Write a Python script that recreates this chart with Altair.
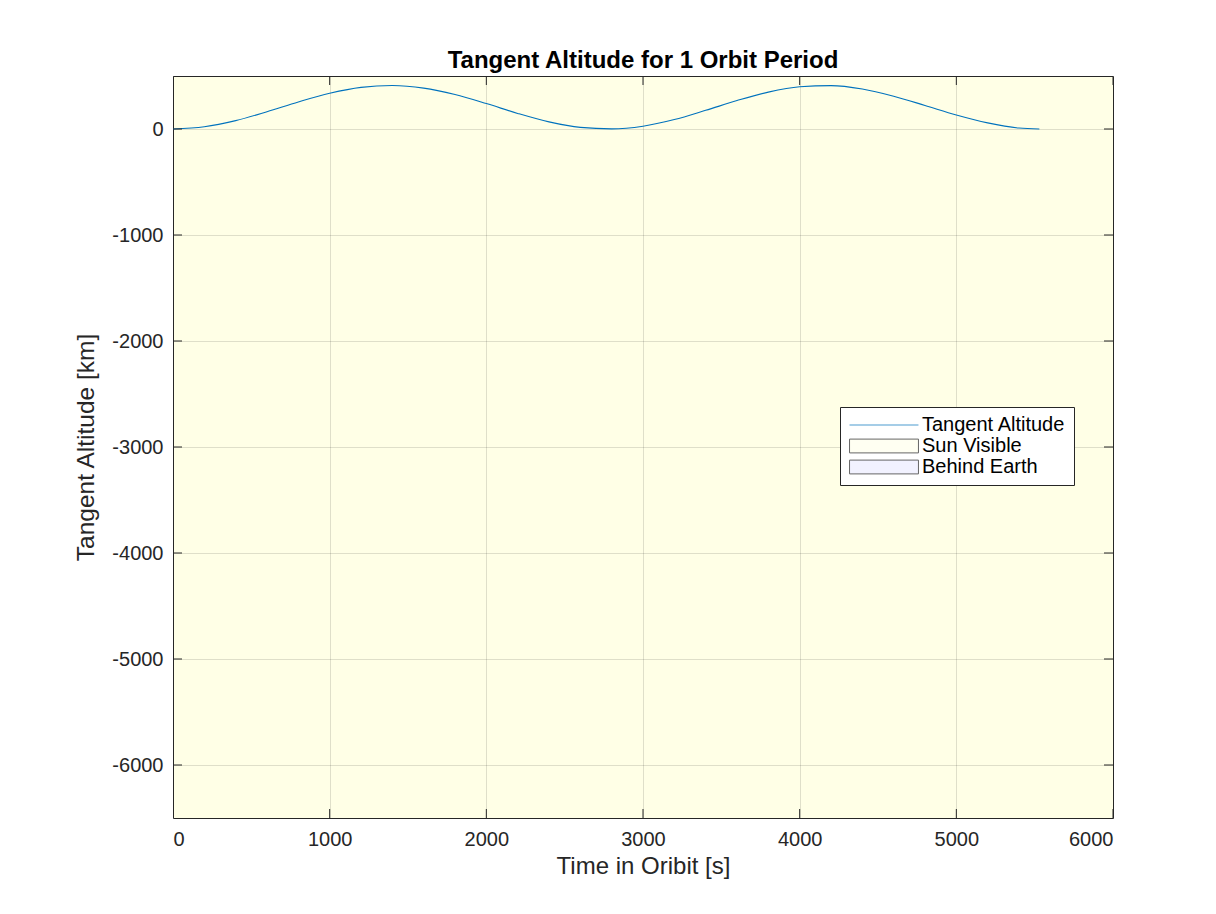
import altair as alt
import pandas as pd

# ---- data ----
time_s = [0, 200, 400, 600, 800, 1000, 1200, 1400, 1600, 1800, 2000, 2200, 2400, 2600,
          2800, 3000, 3200, 3400, 3600, 3800, 4000, 4200, 4400, 4600, 4800, 5000, 5200,
          5400, 5530]
altitude_km = [0, 21, 79, 163, 255, 337, 393, 410, 386, 325, 240, 147, 67, 15,
               1, 26, 89, 176, 268, 348, 398, 409, 377, 309, 222, 132, 58,
               9, 0]

legend_items = ["Tangent Altitude", "Sun Visible", "Behind Earth"]
legend_fill = ["transparent", "#FFFFE6", "#E6E6FF"]
legend_stroke = ["#0072BD", "#262626", "#262626"]
legend_shape = ["M-5,0H5", "M-5,-1H5V1H-5Z", "M-5,-1H5V1H-5Z"]

x_ticks = [0, 1000, 2000, 3000, 4000, 5000, 6000]
y_ticks = [-6000, -5000, -4000, -3000, -2000, -1000, 0]
x_domain = [0, 6000]
y_domain = [-6500, 500]

title_text = "Tangent Altitude for 1 Orbit Period"
x_title = "Time in Oribit [s]"
y_title = "Tangent Altitude [km]"

FONT = "Liberation Sans"
AX = "#262626"

curve = pd.DataFrame({"t": time_s, "alt": altitude_km})
xt = pd.DataFrame({"v": x_ticks})
yt = pd.DataFrame({"v": y_ticks})
leg = pd.DataFrame({"series": legend_items, "t": [-500] * 3, "alt": [0] * 3})

xs = alt.Scale(domain=x_domain, nice=False, zero=False)
ys = alt.Scale(domain=y_domain, nice=False, zero=False)

x_axis = alt.Axis(values=x_ticks, labelExpr="'' + datum.value", ticks=False, domain=False,
                  grid=True, gridColor=AX, gridOpacity=0.15, labelFontSize=20,
                  labelColor=AX, labelPadding=11, titleFontSize=24, titleColor=AX,
                  titleFontWeight="normal", titlePadding=5, labelFont=FONT, titleFont=FONT)
y_axis = alt.Axis(values=y_ticks, labelExpr="'' + datum.value", ticks=False, domain=False,
                  grid=True, gridColor=AX, gridOpacity=0.15, labelFontSize=20,
                  labelColor=AX, labelPadding=10, titleFontSize=24.5, titleColor=AX,
                  titleFontWeight="normal", titlePadding=13, labelFont=FONT, titleFont=FONT)

line = alt.Chart(curve).mark_line(color="#0072BD", strokeWidth=1.1, interpolate="monotone").encode(
    x=alt.X("t:Q", scale=xs, axis=x_axis, title=x_title),
    y=alt.Y("alt:Q", scale=ys, axis=y_axis, title=y_title),
)

tick_style = dict(color=AX, thickness=1, size=18, clip=True, opacity=1)
top_ticks = alt.Chart(xt).mark_tick(orient="vertical", **tick_style).encode(
    x=alt.X("v:Q", scale=xs), y=alt.datum(y_domain[1], scale=ys))
bot_ticks = alt.Chart(xt).mark_tick(orient="vertical", **tick_style).encode(
    x=alt.X("v:Q", scale=xs), y=alt.datum(y_domain[0], scale=ys))
left_ticks = alt.Chart(yt).mark_tick(orient="horizontal", **tick_style).encode(
    y=alt.Y("v:Q", scale=ys), x=alt.datum(x_domain[0], scale=xs))
right_ticks = alt.Chart(yt).mark_tick(orient="horizontal", **tick_style).encode(
    y=alt.Y("v:Q", scale=ys), x=alt.datum(x_domain[1], scale=xs))

legend_layer = alt.Chart(leg).mark_point(clip=True, filled=True, size=190, strokeWidth=1).encode(
    x=alt.X("t:Q", scale=xs),
    y=alt.Y("alt:Q", scale=ys),
    fill=alt.Fill("series:N", scale=alt.Scale(domain=legend_items, range=legend_fill), legend=alt.Legend(title=None)),
    stroke=alt.Stroke("series:N", scale=alt.Scale(domain=legend_items, range=legend_stroke), legend=alt.Legend(title=None)),
    shape=alt.Shape("series:N", scale=alt.Scale(domain=legend_items, range=legend_shape), legend=alt.Legend(title=None)),
)

chart = alt.layer(line, top_ticks, bot_ticks, left_ticks, right_ticks, legend_layer).properties(
    width=940, height=742,
    title=alt.TitleParams(title_text, fontSize=24, fontWeight="bold", font=FONT, color="#000000",
                          anchor="middle", offset=3),
    autosize=alt.AutoSizeParams(type="none"),
    padding={"left": 165, "top": 68, "right": 95, "bottom": 88},
    background="white",
).configure_view(
    fill="#FFFFE6", stroke=AX, strokeWidth=1,
).configure_legend(
    orient="none", legendX=667, legendY=331,
    fillColor="white", strokeColor=AX, padding=8, rowPadding=1,
    labelFont=FONT, labelFontSize=20, labelColor="#000000",
    symbolOffset=26, labelOffset=28, symbolStrokeWidth=1, symbolSize=190,
)

chart.save("out.html", embed_options={"renderer": "svg", "actions": False})
